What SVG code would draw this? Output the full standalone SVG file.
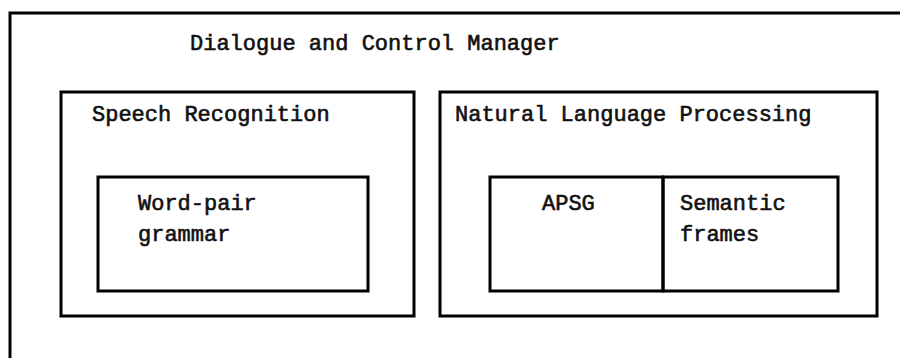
<svg xmlns="http://www.w3.org/2000/svg" width="900" height="358" viewBox="0 0 900 358">
  <style>
    .box { fill: none; stroke: #000; stroke-width: 3; }
    .label { font-family: "Liberation Mono", "Courier New", monospace; font-size: 22px; fill: #111; stroke: #111; stroke-width: 0.6; }
  </style>
  <rect width="900" height="358" fill="#fff"/>

  <!-- outermost frame: runs off the right and bottom edges -->
  <g id="dialogue-control-manager">
    <path class="box" d="M10 360 V13 H902"/>
    <text class="label" x="190" y="50">Dialogue and Control Manager</text>
  </g>

  <g id="speech-recognition">
    <rect class="box" x="61" y="92" width="353" height="224"/>
    <text class="label" x="92" y="121">Speech Recognition</text>
  </g>

  <g id="word-pair-grammar">
    <rect class="box" x="98" y="177" width="270" height="114"/>
    <text class="label" x="138" y="210">Word-pair</text>
    <text class="label" x="138" y="241">grammar</text>
  </g>

  <g id="natural-language-processing">
    <rect class="box" x="440" y="92" width="437" height="224"/>
    <text class="label" x="455" y="121">Natural Language Processing</text>
  </g>

  <g id="apsg">
    <rect class="box" x="490" y="177" width="173" height="114"/>
    <text class="label" x="542" y="210">APSG</text>
  </g>

  <g id="semantic-frames">
    <rect class="box" x="663" y="177" width="175" height="114"/>
    <text class="label" x="680" y="210">Semantic</text>
    <text class="label" x="680" y="241">frames</text>
  </g>

  <g id="connectors"></g>
</svg>
